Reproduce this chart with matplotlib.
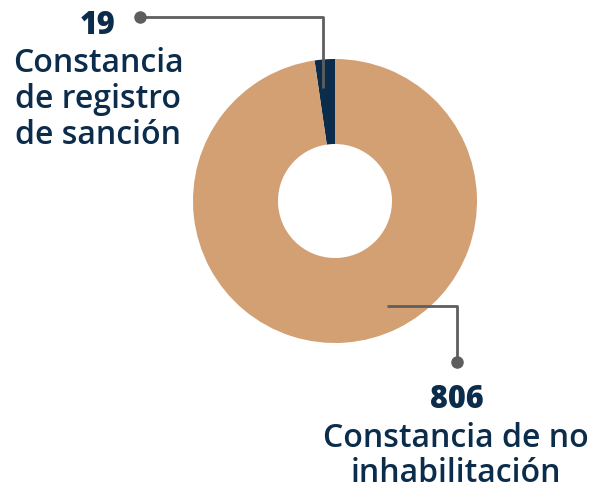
import matplotlib.pyplot as plt
import numpy as np

plt.rcParams['font.family'] = ['Open Sans', 'DejaVu Sans']

labels = ['Constancia de registro de sanción', 'Constancia de no inhabilitación']
values = [19, 806]
colors = ['#0B2C4A', '#D3A074']

W, H = 593, 486
navy = '#0B2C4A'
grey = '#5E5E5E'

fig = plt.figure(figsize=(W / 100, H / 100), dpi=100)
ax = fig.add_axes([0, 0, 1, 1])

# donut, pixel coords with y going up
cx, cy = 335, H - 201
R, r_in = 142, 57
wedges, _ = ax.pie(values, colors=colors, startangle=90, counterclock=True,
                   center=(cx, cy), radius=R, frame=True,
                   wedgeprops=dict(width=R - r_in, linewidth=0))
ax.set_xlim(0, W)
ax.set_ylim(0, H)
ax.set_aspect('equal')
ax.axis('off')


def leader(pts, dot):
    xs = [p[0] for p in pts]
    ys = [H - p[1] for p in pts]
    ax.plot(xs, ys, color=grey, lw=2, solid_capstyle='butt', zorder=5)
    ax.plot(dot[0], H - dot[1], 'o', color=grey, ms=8, zorder=6)


# leader for the small slice
leader([(140, 17), (323, 17), (323, 88)], (140, 17))
# leader for the big slice
leader([(387, 306), (457, 306), (457, 362)], (457, 362))

# top label
ax.text(98, H - 34, str(values[0]), ha='center', va='baseline',
        fontsize=22, fontweight='heavy', color=navy)
for i, line in enumerate(['Constancia', 'de registro', 'de sanción']):
    ax.text(98, H - (72 + 36 * i), line, ha='center', va='baseline',
            fontsize=23, fontweight='semibold', color=navy)

# bottom label
ax.text(457, H - 408, str(values[1]), ha='center', va='baseline',
        fontsize=22, fontweight='heavy', color=navy)
for i, line in enumerate(['Constancia de no', 'inhabilitación']):
    ax.text(456, H - (447 + 35 * i), line, ha='center', va='baseline',
            fontsize=23, fontweight='semibold', color=navy)

fig.savefig('out.png', dpi=100)
